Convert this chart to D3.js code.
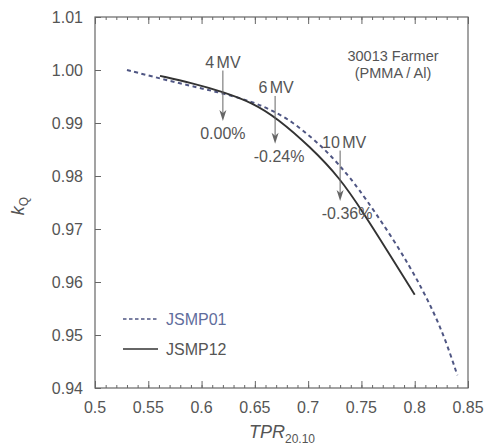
<!DOCTYPE html>
<html>
<head>
<meta charset="utf-8">
<script src="https://cdn.jsdelivr.net/npm/d3@7"></script>
<style>
  body { margin: 0; background: #fff; }
  text { font-family: "Liberation Sans", Arial, sans-serif; fill: #555; }
</style>
</head>
<body>
<svg></svg>
<script>
// JSMP01 (dashed) and JSMP12 (solid) kQ vs TPR20,10
const tpr01 = [0.530, 0.561, 0.598, 0.620, 0.648, 0.667, 0.686, 0.717, 0.733, 0.744, 0.781, 0.808, 0.827, 0.840]
const kq01  = [1.0000, 0.9984, 0.9966, 0.9956, 0.9940, 0.9923, 0.9902, 0.9849, 0.9811, 0.9786, 0.9679, 0.9585, 0.9503, 0.9424]

const tpr12 = [0.561, 0.590, 0.620, 0.648, 0.671, 0.702, 0.730, 0.752, 0.774, 0.800]
const kq12  = [0.9989, 0.9976, 0.9959, 0.9938, 0.9909, 0.9855, 0.9796, 0.9730, 0.9660, 0.9576]

const xTicks = [0.5, 0.55, 0.6, 0.65, 0.7, 0.75, 0.8, 0.85]
const xTickLabels = ["0.5", "0.55", "0.6", "0.65", "0.7", "0.75", "0.8", "0.85"]
const yTicks = [0.94, 0.95, 0.96, 0.97, 0.98, 0.99, 1.00, 1.01]
const yTickLabels = ["0.94", "0.95", "0.96", "0.97", "0.98", "0.99", "1.00", "1.01"]

// beam energy markers: arrow at tpr from kTop down to kTip
const beams = [
  {mv: "4 MV",  pct: "0.00%",  tpr: 0.620, kTop: 0.9999, kTip: 0.9904},
  {mv: "6 MV",  pct: "-0.24%", tpr: 0.669, kTop: 0.9951, kTip: 0.9861},
  {mv: "10 MV", pct: "-0.36%", tpr: 0.730, kTop: 0.9848, kTip: 0.9753}
]

const series = [
  {name: "JSMP01", dash: "4,3.5", color: "#4f5683", text: "#5f6d9c"},
  {name: "JSMP12", dash: null, color: "#333", text: "#555"}
]

const svg = d3.select("svg")
  .attr("width", 491)
  .attr("height", 445)
  .style("background", "#fff")

const x = d3.scaleLinear().domain([0.5, 0.85]).range([95, 468])
const y = d3.scaleLinear().domain([0.94, 1.01]).range([388, 17])

// frame
svg.append("rect")
  .attr("x", x(0.5)).attr("y", y(1.01))
  .attr("width", x(0.85) - x(0.5)).attr("height", y(0.94) - y(1.01))
  .attr("fill", "none").attr("stroke", "#666").attr("stroke-width", 1.2)

// x ticks bottom + top (inward), minor every 0.01
const minor = d3.range(50, 86).map(d => d / 100)
svg.append("g").attr("transform", "translate(0," + y(0.94) + ")")
  .call(d3.axisTop(x).tickValues(minor).tickSize(3).tickFormat(""))
  .call(g => g.select(".domain").remove())
svg.append("g").attr("transform", "translate(0," + y(0.94) + ")")
  .call(d3.axisTop(x).tickValues(xTicks).tickSize(7).tickFormat(""))
  .call(g => g.select(".domain").remove())
svg.append("g").attr("transform", "translate(0," + y(1.01) + ")")
  .call(d3.axisBottom(x).tickValues(minor).tickSize(3).tickFormat(""))
  .call(g => g.select(".domain").remove())
svg.append("g").attr("transform", "translate(0," + y(1.01) + ")")
  .call(d3.axisBottom(x).tickValues(xTicks).tickSize(7).tickFormat(""))
  .call(g => g.select(".domain").remove())
svg.append("g").attr("transform", "translate(" + x(0.5) + ",0)")
  .call(d3.axisRight(y).tickValues(yTicks).tickSize(6).tickFormat(""))
  .call(g => g.select(".domain").remove())
svg.selectAll(".tick line").attr("stroke", "#666")

// tick labels
svg.selectAll(".xlab")
  .data(xTicks).enter()
  .append("text")
  .attr("x", d => x(d))
  .attr("y", 413)
  .attr("text-anchor", "middle")
  .attr("font-size", "16px")
  .text((d, i) => xTickLabels[i])

svg.selectAll(".ylab")
  .data(yTicks).enter()
  .append("text")
  .attr("x", 83)
  .attr("y", d => y(d) + 6)
  .attr("text-anchor", "end")
  .attr("font-size", "16px")
  .text((d, i) => yTickLabels[i])

// axis titles
const xt = svg.append("text")
  .attr("x", 282).attr("y", 438)
  .attr("text-anchor", "middle")
xt.append("tspan").attr("font-size", "18px").attr("font-style", "italic").text("TPR")
xt.append("tspan").attr("font-size", "12px").attr("dy", 5).text("20.10")

const yt = svg.append("text")
  .attr("transform", "translate(24,206) rotate(-90)")
  .attr("text-anchor", "middle")
yt.append("tspan").attr("font-size", "18px").attr("font-style", "italic").text("k")
yt.append("tspan").attr("font-size", "12px").attr("dy", 4).text("Q")

// curves
const line = d3.line()
  .x(d => x(d[0]))
  .y(d => y(d[1]))
  .curve(d3.curveBasis)

const pts01 = tpr01.map((t, i) => [t, kq01[i]])
const pts12 = tpr12.map((t, i) => [t, kq12[i]])

svg.append("path")
  .datum(pts01)
  .attr("d", line)
  .attr("fill", "none")
  .attr("stroke", series[0].color)
  .attr("stroke-width", 2)
  .attr("stroke-dasharray", series[0].dash)

svg.append("path")
  .datum(pts12)
  .attr("d", line)
  .attr("fill", "none")
  .attr("stroke", series[1].color)
  .attr("stroke-width", 1.9)

// arrows + labels
svg.selectAll(".arrow")
  .data(beams).enter()
  .append("line")
  .attr("x1", d => x(d.tpr)).attr("x2", d => x(d.tpr))
  .attr("y1", d => y(d.kTop)).attr("y2", d => y(d.kTip) - 8)
  .attr("stroke", "#666").attr("stroke-width", 1)

svg.selectAll(".head")
  .data(beams).enter()
  .append("path")
  .attr("d", d => {
    const ax = x(d.tpr), ay = y(d.kTip)
    return "M" + ax + "," + ay + "L" + (ax - 3.5) + "," + (ay - 11) +
      "L" + ax + "," + (ay - 8) + "L" + (ax + 3.5) + "," + (ay - 11) + "Z"
  })
  .attr("fill", "#666")

svg.selectAll(".mv")
  .data(beams).enter()
  .append("text")
  .attr("x", (d, i) => x(d.tpr) + [0, 1, 4][i])
  .attr("y", d => y(d.kTop) - 3)
  .attr("text-anchor", "middle")
  .attr("font-size", "16px")
  .attr("word-spacing", "-2px")
  .text(d => d.mv)

svg.selectAll(".pct")
  .data(beams).enter()
  .append("text")
  .attr("x", (d, i) => x(d.tpr) + [0, 4, 7][i])
  .attr("y", d => y(d.kTip) + 18)
  .attr("text-anchor", "middle")
  .attr("font-size", "16px")
  .text(d => d.pct)

// chamber note
svg.append("text")
  .attr("x", 393).attr("y", 61)
  .attr("text-anchor", "middle")
  .attr("font-size", "14.5px")
  .text("30013 Farmer")
svg.append("text")
  .attr("x", 393).attr("y", 78)
  .attr("text-anchor", "middle")
  .attr("font-size", "14.5px")
  .text("(PMMA / Al)")

// legend
const legend = svg.selectAll(".legend")
  .data(series).enter()
  .append("g")
  .attr("transform", (d, i) => "translate(123," + (319 + i * 30) + ")")

legend.append("line")
  .attr("x1", 0).attr("x2", 35)
  .attr("stroke", d => d.color)
  .attr("stroke-width", d => d.dash ? 1.6 : 1.5)
  .attr("stroke-dasharray", d => d.dash ? "3.5,2.5" : null)

legend.append("text")
  .attr("x", 43).attr("y", 6)
  .attr("font-size", "16px")
  .style("fill", d => d.text)
  .text(d => d.name)
</script>
</body>
</html>
